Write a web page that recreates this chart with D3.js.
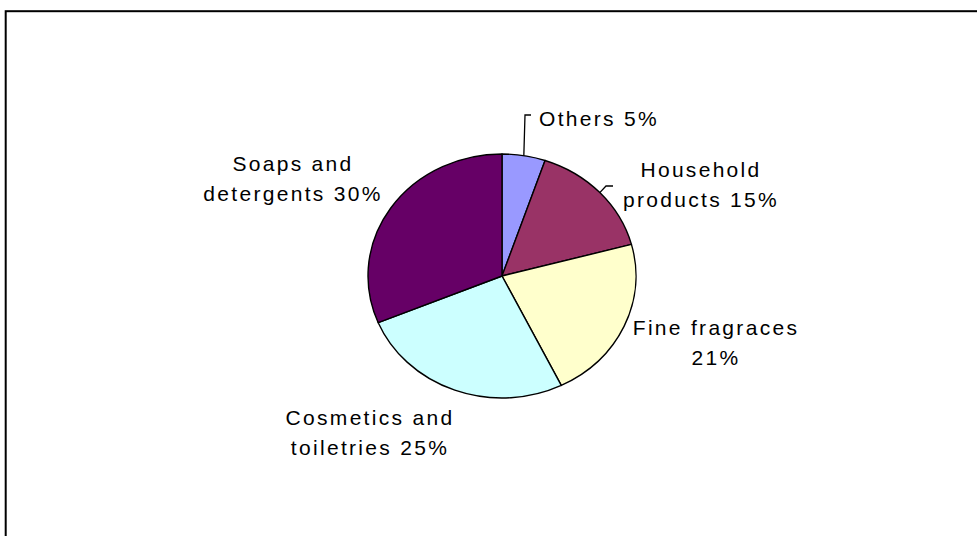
<!DOCTYPE html>
<html>
<head>
<meta charset="utf-8">
<script src="https://cdn.jsdelivr.net/npm/d3@7"></script>
<style>
  html, body { margin: 0; padding: 0; background: #fff; }
  svg { display: block; }
  .lbl { font-family: "Liberation Sans", Arial, sans-serif; font-size: 21px; letter-spacing: 2.3px; fill: #000; }
</style>
</head>
<body>
<svg id="chart" width="977" height="536"></svg>
<script>
// Market share by product segment (%)
const categories = ["Others", "Household products", "Fine fragraces", "Cosmetics and toiletries", "Soaps and detergents"];
const shares = [5, 15, 21, 25, 30];
const labelLines = [
  ["Others 5%"],
  ["Household", "products 15%"],
  ["Fine fragraces", "21%"],
  ["Cosmetics and", "toiletries 25%"],
  ["Soaps and", "detergents 30%"]
];
const sliceColors = ["#9999FF", "#993366", "#FFFFCC", "#CCFFFF", "#660066"];

// Layout
const W = 977, H = 536;
const cx = 502, cy = 276;      // pie centre
const rx = 134, ry = 122;      // pie is drawn slightly wider than tall
const lineGap = 30;

// Label placement: anchor point of first baseline, text-anchor, optional leader elbow
const labelLayout = [
  { x: 539, y: 126, anchor: "start",  leader: [[525, 115], [531, 115]] },
  { x: 701, y: 177, anchor: "middle", leader: [[606, 186], [613, 186]] },
  { x: 716, y: 335, anchor: "middle" },
  { x: 370, y: 425, anchor: "middle" },
  { x: 293, y: 171, anchor: "middle" }
];

const svg = d3.select("#chart");

// outer frame
svg.append("rect")
  .attr("x", 5.7).attr("y", 11.2)
  .attr("width", 1000).attr("height", 600)
  .attr("fill", "none").attr("stroke", "#000").attr("stroke-width", 2);

const pie = d3.pie().sort(null).value(d => d)(shares);
const arc = d3.arc().innerRadius(0).outerRadius(ry);

const g = svg.append("g")
  .attr("transform", `translate(${cx},${cy}) scale(${rx / ry},1)`);

g.selectAll("path.slice")
  .data(pie)
  .join("path")
  .attr("class", "slice")
  .attr("d", arc)
  .attr("fill", (d, i) => sliceColors[i])
  .attr("stroke", "#000")
  .attr("stroke-width", 1.4)
  .attr("stroke-linejoin", "round")
  .attr("vector-effect", "non-scaling-stroke");

// point on the pie rim at a given angle (clockwise from 12 o'clock)
const rim = a => [cx + rx * Math.sin(a), cy - ry * Math.cos(a)];

// leader lines
pie.forEach((d, i) => {
  const L = labelLayout[i];
  if (!L.leader) return;
  const mid = (d.startAngle + d.endAngle) / 2;
  const pts = [rim(mid), ...L.leader];
  svg.append("path")
    .attr("d", d3.line()(pts))
    .attr("fill", "none")
    .attr("stroke", "#000")
    .attr("stroke-width", 1.3);
});

// labels
labelLines.forEach((lines, i) => {
  const L = labelLayout[i];
  const t = svg.append("text")
    .attr("class", "lbl")
    .attr("text-anchor", L.anchor);
  lines.forEach((s, k) => {
    t.append("tspan")
      .attr("x", L.x)
      .attr("y", L.y + k * lineGap)
      .text(s);
  });
});
</script>
</body>
</html>
